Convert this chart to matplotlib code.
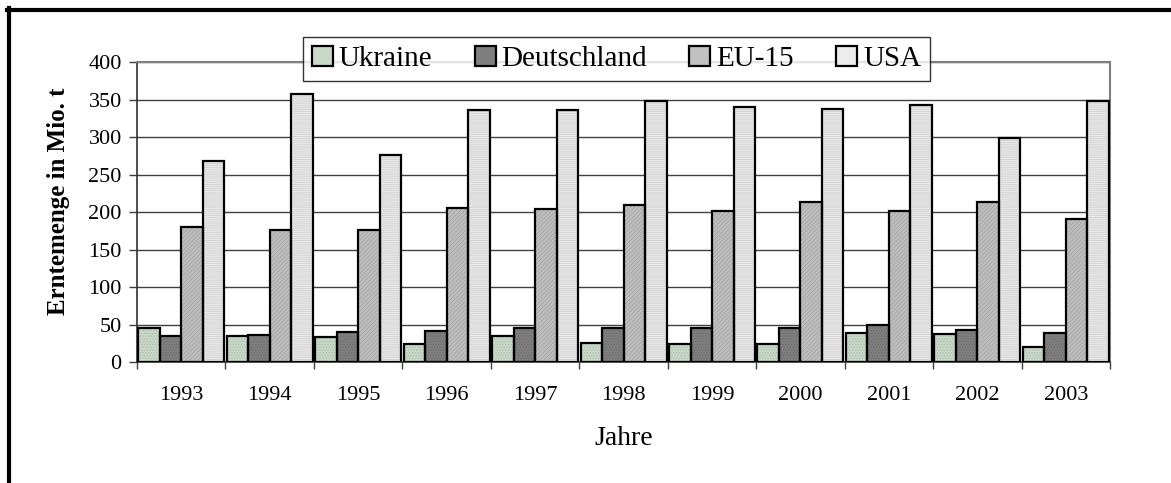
import numpy as np
import matplotlib
matplotlib.use("Agg")
import matplotlib.pyplot as plt
from matplotlib.patches import Patch
from matplotlib.lines import Line2D

# Erntemenge Getreide in Mio. t
years = ["1993", "1994", "1995", "1996", "1997", "1998", "1999", "2000", "2001", "2002", "2003"]
series_names = ["Ukraine", "Deutschland", "EU-15", "USA"]
ukraine = [45, 35, 33, 24, 35, 26, 24, 24, 39, 38, 20]
deutschland = [35, 36, 40, 42, 45, 45, 45, 45, 50, 43, 39]
eu15 = [180, 176, 176, 205, 204, 210, 201, 213, 202, 214, 191]
usa = [268, 357, 276, 336, 336, 348, 340, 337, 343, 299, 348]
yticks = [0, 50, 100, 150, 200, 250, 300, 350, 400]

face_colors = ["#c9d9c9", "#7f7f7f", "#c0c0c0", "#ececec"]
hatch_colors = ["#a9bba9", "#6a6a6a", "#a2a2a2", "#cdcdcd"]
hatches = ["......", "......", "////////", "--------"]

plt.rcParams["font.family"] = ["Liberation Serif", "DejaVu Serif"]
plt.rcParams["hatch.linewidth"] = 0.6

fig = plt.figure(figsize=(11.71, 4.83), dpi=100)
ax = fig.add_axes([0.117, 0.2505, 0.831, 0.621])

x = np.arange(len(years))
w = 0.243
all_vals = [ukraine, deutschland, eu15, usa]
for k, vals in enumerate(all_vals):
    pos = x + (k - 1.5) * w
    ax.bar(pos, vals, w, color=face_colors[k], linewidth=0, zorder=3)
    ax.bar(pos, vals, w, color="none", edgecolor=hatch_colors[k], hatch=hatches[k], linewidth=0, zorder=4)
    ax.bar(pos, vals, w, color="none", edgecolor="black", linewidth=1.6, zorder=5)

ax.set_xlim(-0.5, len(years) - 0.5)
ax.set_ylim(0, 400)
ax.set_yticks(yticks)
ax.set_yticklabels([str(v) for v in yticks], fontsize=16)
ax.yaxis.grid(True, color="#404040", linewidth=1.0, zorder=0)
ax.set_axisbelow(True)

ax.set_xticks(np.arange(len(years) + 1) - 0.5)
ax.set_xticklabels([])
ax.set_xticks(x, minor=True)
ax.set_xticklabels(years, minor=True, fontsize=16)
ax.tick_params(axis="x", which="minor", length=0, pad=17)
ax.tick_params(axis="x", which="major", length=5, width=1, color="#404040")
ax.tick_params(axis="y", length=6, width=1, color="#404040", pad=5)

for side in ["top", "right"]:
    ax.spines[side].set_color("#808080")
    ax.spines[side].set_linewidth(1.5)
for side in ["left", "bottom"]:
    ax.spines[side].set_color("#303030")
    ax.spines[side].set_linewidth(1.2)

ax.set_ylabel("Erntemenge in Mio. t", fontsize=18, fontweight="bold")
ax.yaxis.set_label_coords(-0.069, 0.537)
ax.set_xlabel("Jahre", fontsize=20)
ax.xaxis.set_label_coords(0.5, -0.215)

handles = [Patch(facecolor=face_colors[k], edgecolor="black", linewidth=1.6) for k in range(4)]
leg = fig.legend(handles, series_names, ncol=4, loc="center", bbox_to_anchor=(0.5265, 0.878),
                 fontsize=21, frameon=True, fancybox=False, edgecolor="black",
                 handlelength=0.72, handleheight=0.72, handletextpad=0.2, columnspacing=1.45,
                 borderpad=0.3)
leg.get_frame().set_linewidth(1.0)

# Rahmen oben und links
fig.add_artist(Line2D([7 / 1171, 1.0], [1 - 10 / 483, 1 - 10 / 483], color="black", linewidth=3, transform=fig.transFigure))
fig.add_artist(Line2D([8.5 / 1171, 8.5 / 1171], [0.0, 1 - 8 / 483], color="black", linewidth=3, transform=fig.transFigure))

fig.savefig("out.png", dpi=100)
